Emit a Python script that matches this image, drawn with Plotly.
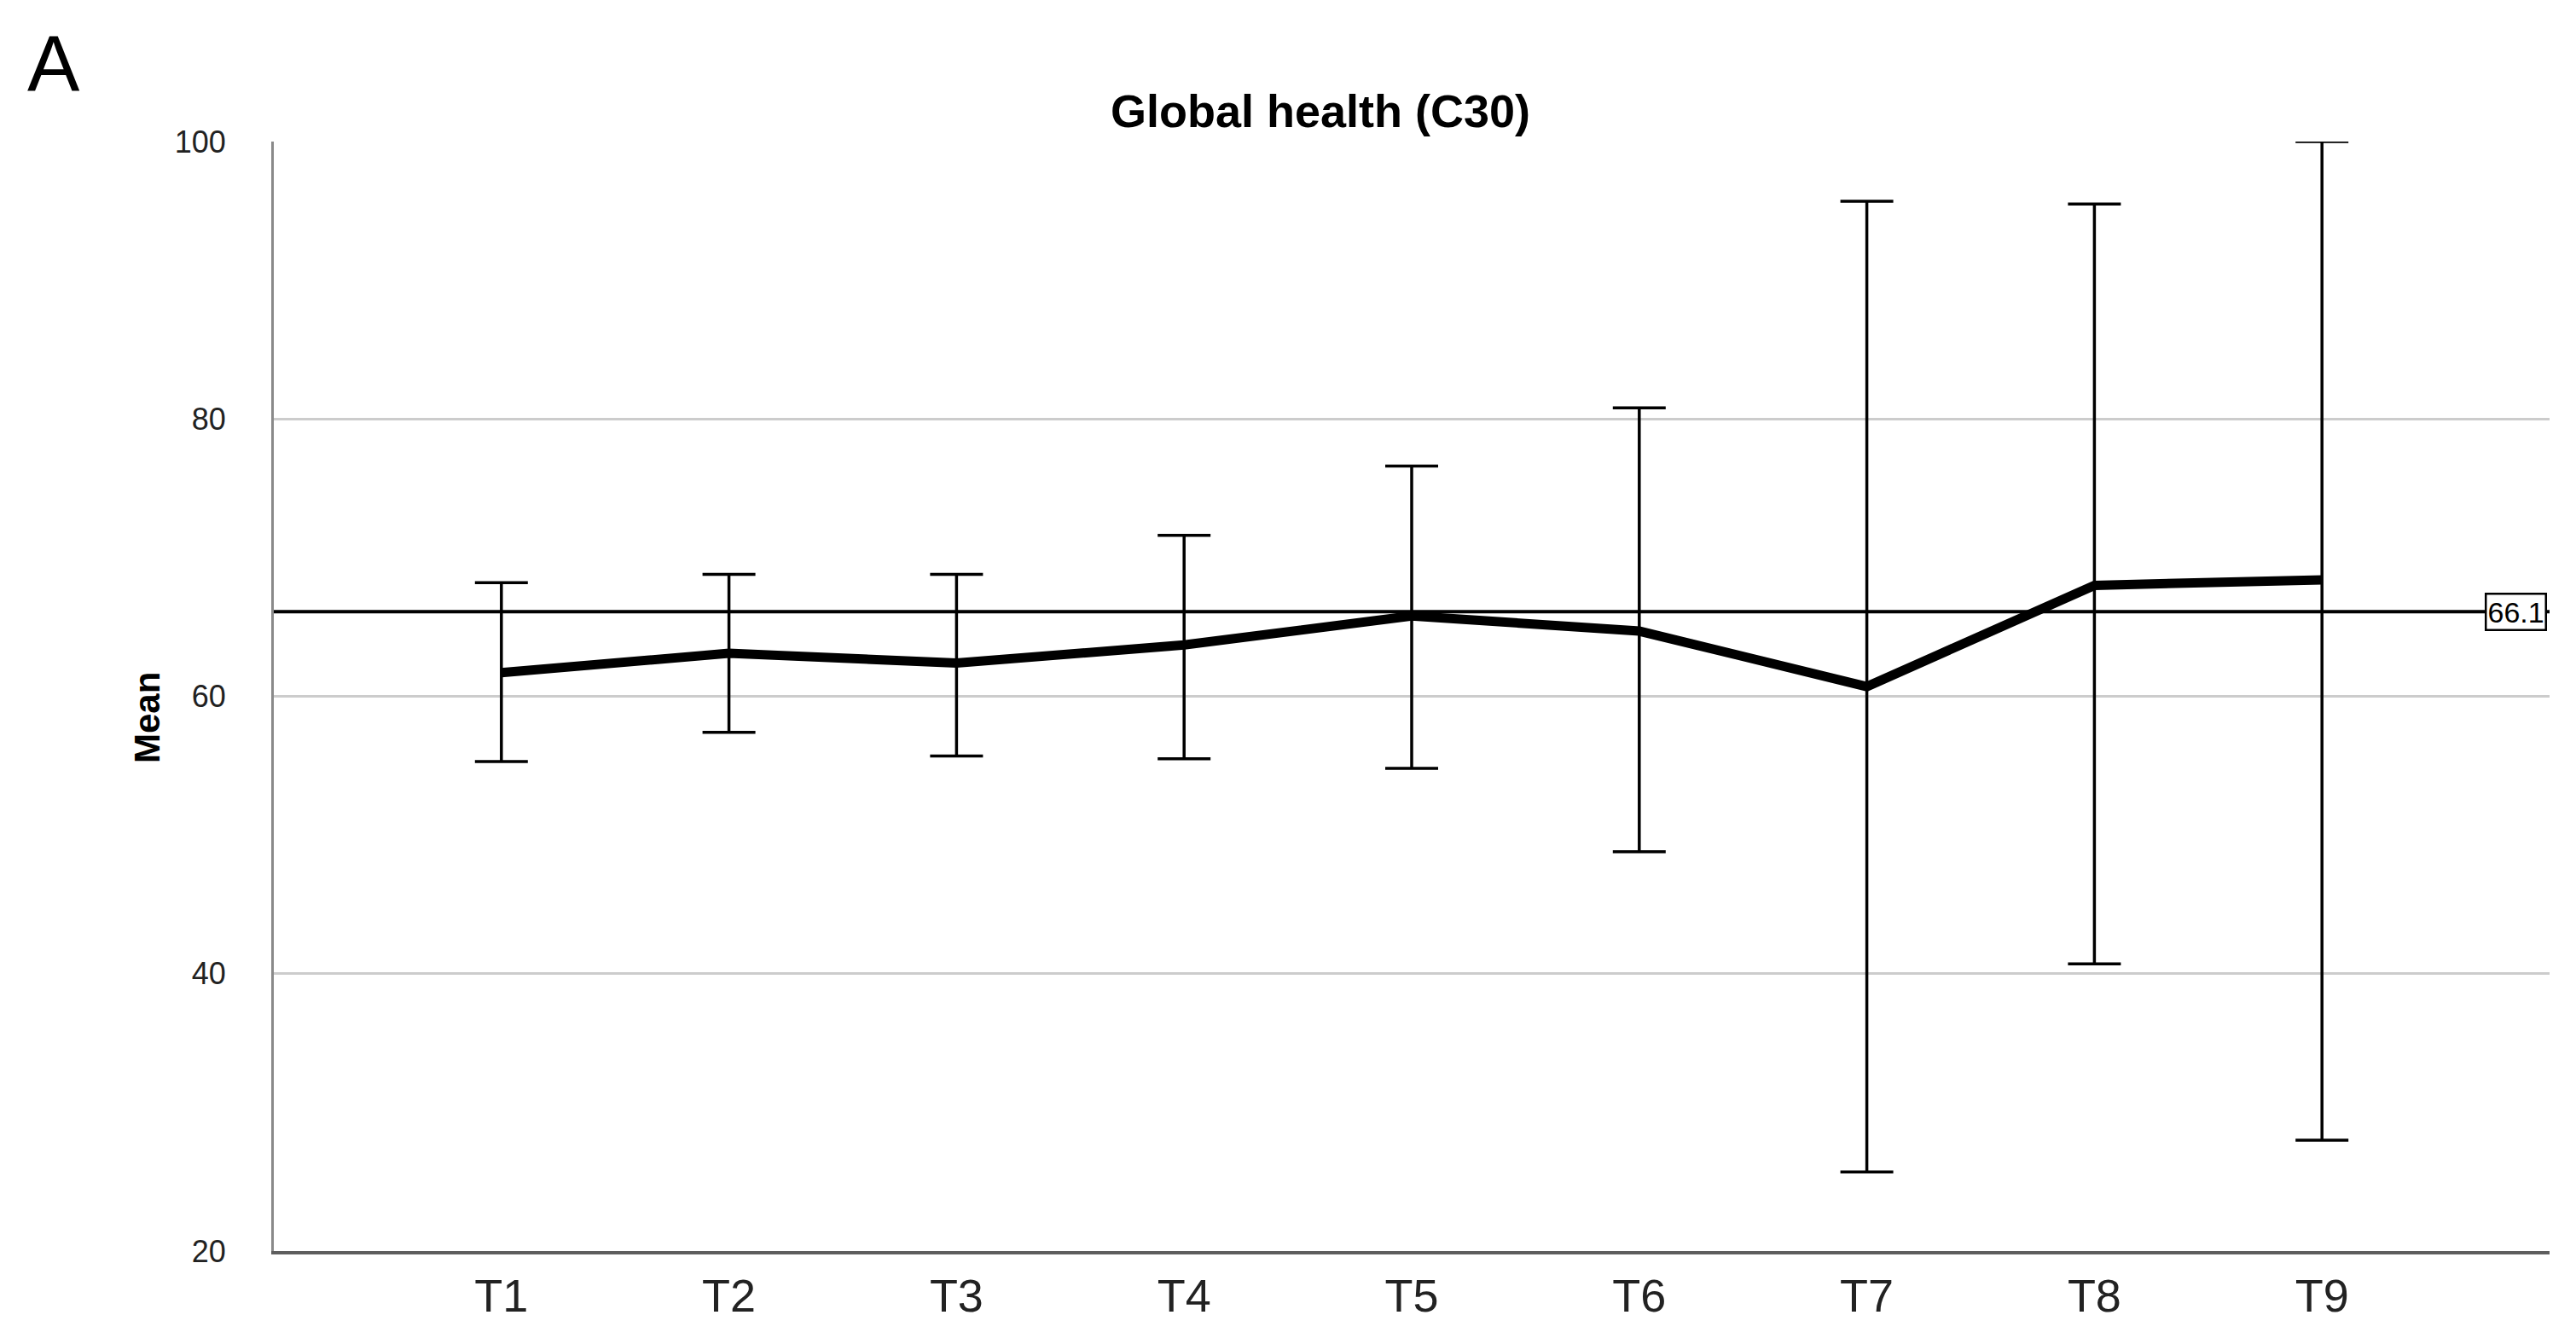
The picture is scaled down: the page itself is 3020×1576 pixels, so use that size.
import plotly.graph_objects as go

categories = ["T1", "T2", "T3", "T4", "T5", "T6", "T7", "T8", "T9"]
means = [61.7, 63.1, 62.4, 63.7, 65.8, 64.7, 60.7, 68.0, 68.4]
upper = [68.2, 68.8, 68.8, 71.6, 76.6, 80.8, 95.7, 95.5, 100.0]
lower = [55.3, 57.4, 55.7, 55.5, 54.8, 48.8, 25.7, 40.7, 28.0]
ref_value = 66.1
y_ticks = [20, 40, 60, 80, 100]

W, H = 3020, 1576
L, R, T, B = 313, 39, 158, 117

x_idx = list(range(len(categories)))
err_plus = [u - m for u, m in zip(upper, means)]
err_minus = [m - l for m, l in zip(means, lower)]

fig = go.Figure()
fig.add_trace(go.Scatter(
    x=x_idx, y=means, mode="lines",
    line=dict(color="black", width=11),
    error_y=dict(type="data", symmetric=False, array=err_plus, arrayminus=err_minus,
                 color="black", thickness=3.5, width=31),
    showlegend=False, hoverinfo="skip",
))

fig.add_shape(type="line", xref="paper", yref="y", x0=0, x1=1, y0=ref_value, y1=ref_value,
              line=dict(color="black", width=4), layer="above")
fig.add_annotation(xref="paper", yref="y", x=0.999, y=ref_value, xanchor="right", yanchor="middle",
                   text=f"{ref_value}", showarrow=False,
                   font=dict(family="Liberation Sans Narrow, Liberation Sans, Arial", size=34, color="black"),
                   bgcolor="white", bordercolor="black", borderwidth=2.5, borderpad=1)

plot_w = W - L - R
plot_h = H - T - B
fig.add_annotation(xref="paper", yref="paper", x=(22 - L) / plot_w, y=1 + (T - 14) / plot_h,
                   xanchor="left", yanchor="top", text="A", showarrow=False,
                   font=dict(family="Liberation Sans, Arial", size=92, color="black"))
fig.add_annotation(xref="paper", yref="paper", x=(164 - L) / plot_w, y=1 - (834 - T) / plot_h,
                   xanchor="center", yanchor="middle", text="<b>Mean</b>", showarrow=False,
                   textangle=-90,
                   font=dict(family="Liberation Sans, Arial", size=42, color="black"))

fig.update_layout(
    width=W, height=H,
    margin=dict(l=L, r=R, t=T, b=B),
    paper_bgcolor="white", plot_bgcolor="white",
    title=dict(text="<b>Global health (C30)</b>", x=1540 / W, xanchor="center",
               y=1 - 122 / H, yanchor="middle",
               font=dict(family="Liberation Sans, Arial", size=54, color="black")),
    xaxis=dict(range=[-1, 9], tickmode="array", tickvals=x_idx, ticktext=categories,
               showgrid=False, zeroline=False, showline=True, linecolor="#5e5e5e", linewidth=4,
               ticks="", ticklabelstandoff=2,
               tickfont=dict(family="Liberation Sans Narrow, Liberation Sans, Arial", size=54, color="#222222")),
    yaxis=dict(range=[20, 100], tickmode="array", tickvals=y_ticks,
               showgrid=True, gridcolor="#cccccc", gridwidth=3, zeroline=False,
               showline=True, linecolor="#8a8a8a", linewidth=3, ticks="", ticklabelstandoff=46,
               tickfont=dict(family="Liberation Sans Narrow, Liberation Sans, Arial", size=36, color="#222222")),
)

fig.write_html("out.html")
